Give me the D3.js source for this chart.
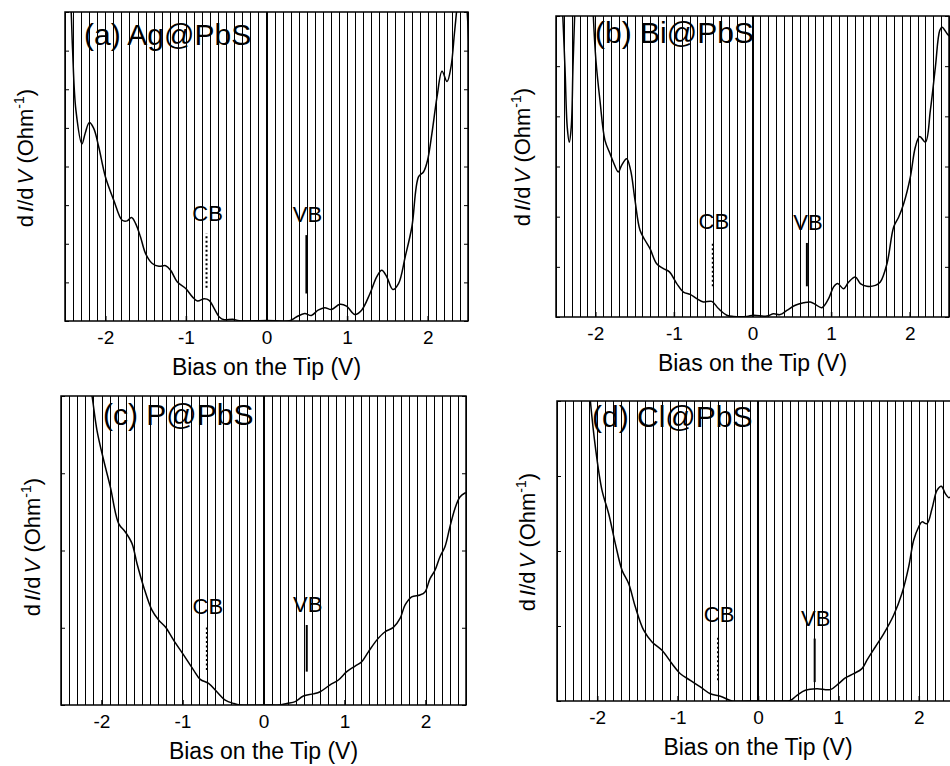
<!DOCTYPE html>
<html>
<head>
<meta charset="utf-8">
<script src="https://cdn.jsdelivr.net/npm/d3@7"></script>
<style>
  body { margin: 0; background: #fff; }
  svg { display: block; }
  text { font-family: "Liberation Sans", Arial, Helvetica, sans-serif; fill: #000; }
</style>
</head>
<body>
<svg id="chart" width="950" height="766"></svg>
<script>
// dI/dV spectra, [bias (V), dI/dV (fraction of panel full scale)]
const agPbS = [
  [-2.46,1.20],[-2.423,1.0],[-2.406,0.878],[-2.365,0.683],[-2.290,0.573],[-2.249,0.608],[-2.199,0.642],
  [-2.145,0.624],[-2.082,0.564],[-1.999,0.467],[-1.895,0.391],[-1.791,0.326],[-1.729,0.324],[-1.675,0.335],
  [-1.625,0.316],[-1.563,0.272],[-1.500,0.218],[-1.417,0.186],[-1.334,0.177],[-1.251,0.179],[-1.189,0.164],
  [-1.106,0.126],[-1.002,0.105],[-0.919,0.078],[-0.856,0.065],[-0.773,0.072],[-0.711,0.067],[-0.648,0.040],
  [-0.586,0.013],[-0.524,0.004],[-0.420,0.006],[-0.337,0.001],[0.0,0.002],[0.287,0.001],[0.370,0.013],
  [0.474,0.024],[0.557,0.018],[0.640,0.035],[0.723,0.043],[0.806,0.037],[0.910,0.054],[0.993,0.048],
  [1.097,0.021],[1.180,0.035],[1.284,0.089],[1.367,0.143],[1.430,0.164],[1.492,0.143],[1.567,0.102],
  [1.638,0.121],[1.721,0.208],[1.804,0.305],[1.887,0.467],[1.949,0.483],[1.999,0.521],[2.053,0.608],
  [2.116,0.726],[2.178,0.808],[2.240,0.775],[2.290,0.824],[2.332,0.932],[2.365,1.02],[2.41,1.15],
  [2.47,1.06],[2.51,0.90]
];
const biPbS = [
  [-2.43,1.10],[-2.386,0.831],[-2.357,0.631],[-2.331,0.581],[-2.306,0.631],[-2.284,0.831],[-2.263,1.0],
  [-2.20,1.60],[-2.06,1.30],[-2.025,1.0],[-1.992,0.853],[-1.941,0.720],[-1.877,0.587],[-1.813,0.543],
  [-1.771,0.515],[-1.707,0.482],[-1.665,0.504],[-1.601,0.526],[-1.550,0.487],[-1.495,0.388],[-1.431,0.288],
  [-1.367,0.255],[-1.304,0.227],[-1.219,0.177],[-1.134,0.161],[-1.057,0.150],[-0.964,0.111],[-0.879,0.083],
  [-0.794,0.075],[-0.709,0.061],[-0.624,0.050],[-0.518,0.052],[-0.433,0.028],[-0.327,0.006],[-0.242,0.002],
  [-0.072,0.002],[0.013,0.006],[0.183,0.003],[0.268,0.011],[0.352,0.008],[0.437,0.022],[0.544,0.039],
  [0.650,0.047],[0.735,0.050],[0.798,0.042],[0.883,0.031],[0.968,0.061],[1.032,0.100],[1.083,0.111],
  [1.159,0.094],[1.223,0.116],[1.308,0.133],[1.372,0.111],[1.456,0.102],[1.563,0.105],[1.626,0.116],
  [1.711,0.177],[1.796,0.299],[1.860,0.332],[1.924,0.377],[2.008,0.465],[2.072,0.565],[2.127,0.600],
  [2.200,0.581],[2.263,0.687],[2.327,0.831],[2.382,0.952],[2.412,0.963],[2.476,0.941],[2.518,0.930]
];
const pPbS = [
  [-2.146,1.04],[-2.117,1.0],[-2.056,0.889],[-1.973,0.792],[-1.891,0.706],[-1.788,0.587],[-1.706,0.560],
  [-1.624,0.523],[-1.562,0.458],[-1.480,0.383],[-1.377,0.307],[-1.295,0.275],[-1.213,0.253],[-1.110,0.210],
  [-0.987,0.162],[-0.863,0.113],[-0.781,0.083],[-0.678,0.070],[-0.576,0.043],[-0.473,0.016],[-0.370,0.005],
  [-0.288,0.0],[0.041,0.0],[0.206,0.0],[0.288,0.005],[0.391,0.011],[0.493,0.029],[0.617,0.036],
  [0.699,0.043],[0.822,0.065],[0.925,0.081],[1.028,0.108],[1.131,0.126],[1.213,0.140],[1.295,0.172],
  [1.398,0.210],[1.501,0.237],[1.603,0.251],[1.686,0.280],[1.747,0.323],[1.829,0.350],[1.932,0.356],
  [1.994,0.366],[2.056,0.409],[2.117,0.436],[2.179,0.480],[2.240,0.512],[2.302,0.577],[2.364,0.636],
  [2.425,0.673],[2.487,0.686],[2.5,0.687]
];
const clPbS = [
  [-2.10,1.05],[-2.085,1.0],[-2.023,0.847],[-1.940,0.702],[-1.857,0.624],[-1.774,0.524],[-1.691,0.436],
  [-1.608,0.391],[-1.525,0.313],[-1.422,0.236],[-1.318,0.197],[-1.194,0.169],[-1.069,0.124],[-0.966,0.091],
  [-0.842,0.069],[-0.717,0.047],[-0.593,0.024],[-0.468,0.016],[-0.323,0.0],[-0.137,0.0],[0.278,0.0],
  [0.402,0.002],[0.485,0.019],[0.589,0.036],[0.734,0.041],[0.899,0.038],[1.003,0.058],[1.086,0.077],
  [1.190,0.091],[1.293,0.108],[1.355,0.136],[1.459,0.180],[1.563,0.224],[1.687,0.286],[1.790,0.358],
  [1.874,0.447],[1.936,0.536],[1.998,0.580],[2.039,0.597],[2.101,0.591],[2.164,0.641],[2.226,0.702],
  [2.280,0.716],[2.330,0.691],[2.371,0.678],[2.392,0.680],[2.45,0.70]
];

const panelTitles = ["(a) Ag@PbS", "(b) Bi@PbS", "(c) P@PbS", "(d) Cl@PbS"];
const spectra = [agPbS, biPbS, pPbS, clPbS];

// band-edge markers: bias and [low, high] extent in dI/dV units
const cbBias = [-0.744, -0.505, -0.699, -0.497];
const cbSpan = [[0.108, 0.283], [0.102, 0.249], [0.113, 0.253], [0.069, 0.219]];
const vbBias = [0.495, 0.692, 0.534, 0.705];
const vbSpan = [[0.089, 0.278], [0.102, 0.246], [0.108, 0.259], [0.063, 0.208]];

const biasDomain = [-2.5, 2.5];
const biasTicks = [-2, -1, 0, 1, 2];
const biasTickLabels = ["-2", "-1", "0", "1", "2"];
const yTickDivisions = [8, 6, 4, 4];

// frame geometry of each panel and placement of its texts (px)
const layout = [
  { left: 65,  top: 12,  right: 468, bottom: 321, titleDx: 19, titleDy: 33, ylabDx: -32, ylabDy: 146 },
  { left: 556, top: 16,  right: 949, bottom: 317, titleDx: 39, titleDy: 27, ylabDx: -26, ylabDy: 141 },
  { left: 61,  top: 396, right: 466, bottom: 705, titleDx: 42, titleDy: 29, ylabDx: -21, ylabDy: 151 },
  { left: 557, top: 401, right: 959, bottom: 701, titleDx: 35, titleDy: 26, ylabDx: -22, ylabDy: 141 }
];

const svg = d3.select("#chart");
const gridValues = d3.range(-25, 26).map(k => k / 10);
const crisp = v => Math.round(v) + 0.5;

layout.forEach((L, i) => {
  const x = d3.scaleLinear().domain(biasDomain).range([L.left, L.right]);
  const y = d3.scaleLinear().domain([0, 1]).range([L.bottom, L.top]);
  const g = svg.append("g");
  const clipId = "clip" + i;

  svg.append("defs").append("clipPath").attr("id", clipId)
    .append("rect")
    .attr("x", L.left).attr("y", L.top)
    .attr("width", L.right - L.left).attr("height", L.bottom - L.top);

  // vertical grid every 0.1 V, heavier at zero bias
  g.append("g").selectAll("line").data(gridValues).join("line")
    .attr("x1", d => Math.abs(d) < 1e-9 ? Math.round(x(d)) : crisp(x(d)))
    .attr("x2", d => Math.abs(d) < 1e-9 ? Math.round(x(d)) : crisp(x(d)))
    .attr("y1", L.top).attr("y2", L.bottom)
    .attr("stroke", "#000")
    .attr("stroke-width", d => Math.abs(d) < 1e-9 ? 2 : 1);

  // axes with inward ticks
  const yTicks = d3.range(0, yTickDivisions[i] + 1).map(k => k / yTickDivisions[i]);
  const xAxis = d3.axisBottom(x).tickValues(biasTicks)
    .tickFormat((d, k) => biasTickLabels[k]).tickSize(-5).tickPadding(10);
  const gx = g.append("g").attr("transform", `translate(0,${L.bottom})`).call(xAxis);
  gx.select(".domain").remove();
  gx.selectAll(".tick line").attr("stroke", "#000").attr("stroke-width", 1.5);
  gx.selectAll(".tick text").attr("font-size", 19)
    .attr("font-family", '"Liberation Sans", Arial, sans-serif');

  const gyl = g.append("g").attr("transform", `translate(${L.left},0)`)
    .call(d3.axisLeft(y).tickValues(yTicks).tickFormat("").tickSize(-4));
  const gyr = g.append("g").attr("transform", `translate(${L.right},0)`)
    .call(d3.axisRight(y).tickValues(yTicks).tickFormat("").tickSize(-4));
  [gyl, gyr].forEach(a => {
    a.select(".domain").remove();
    a.selectAll(".tick line").attr("stroke", "#000").attr("stroke-width", 1);
  });

  // spectrum
  const line = d3.line().x(d => x(d[0])).y(d => y(d[1]))
    .curve(d3.curveCatmullRom.alpha(0.5));
  g.append("path").datum(spectra[i])
    .attr("clip-path", `url(#${clipId})`)
    .attr("d", line).attr("fill", "none")
    .attr("stroke", "#000").attr("stroke-width", 1.5);

  // band-edge markers
  g.append("line")
    .attr("x1", x(cbBias[i])).attr("x2", x(cbBias[i]))
    .attr("y1", y(cbSpan[i][0])).attr("y2", y(cbSpan[i][1]))
    .attr("stroke", "#000").attr("stroke-width", 2).attr("stroke-dasharray", "2,2.5");
  g.append("line")
    .attr("x1", x(vbBias[i])).attr("x2", x(vbBias[i]))
    .attr("y1", y(vbSpan[i][0])).attr("y2", y(vbSpan[i][1]))
    .attr("stroke", "#000").attr("stroke-width", 2);
  g.append("text").text("CB")
    .attr("x", x(cbBias[i]) + 1).attr("y", y(cbSpan[i][1]) - 13)
    .attr("text-anchor", "middle").attr("font-size", 22);
  g.append("text").text("VB")
    .attr("x", x(vbBias[i]) + 1).attr("y", y(vbSpan[i][1]) - 13)
    .attr("text-anchor", "middle").attr("font-size", 22);

  // frame
  g.append("rect")
    .attr("x", L.left).attr("y", L.top)
    .attr("width", L.right - L.left).attr("height", L.bottom - L.top)
    .attr("fill", "none").attr("stroke", "#000").attr("stroke-width", 1.5);

  // panel title
  g.append("text").text(panelTitles[i])
    .attr("x", L.left + L.titleDx).attr("y", L.top + L.titleDy)
    .attr("font-size", 30);

  // axis titles
  g.append("text").text("Bias on the Tip (V)")
    .attr("x", x(0))
    .attr("y", L.bottom + 54)
    .attr("text-anchor", "middle").attr("font-size", 23);

  const yl = g.append("text")
    .attr("transform", `translate(${L.left + L.ylabDx},${L.top + L.ylabDy}) rotate(-90)`)
    .attr("text-anchor", "middle").attr("font-size", 22);
  yl.append("tspan").text("d");
  yl.append("tspan").attr("dx", 3).attr("font-style", "italic").text("I");
  yl.append("tspan").text("/d");
  yl.append("tspan").attr("dx", 3).attr("font-style", "italic").text("V");
  yl.append("tspan").text(" (Ohm");
  yl.append("tspan").attr("dy", -9).attr("font-size", 14).text("-1");
  yl.append("tspan").attr("dy", 9).text(")");
});
</script>
</body>
</html>
